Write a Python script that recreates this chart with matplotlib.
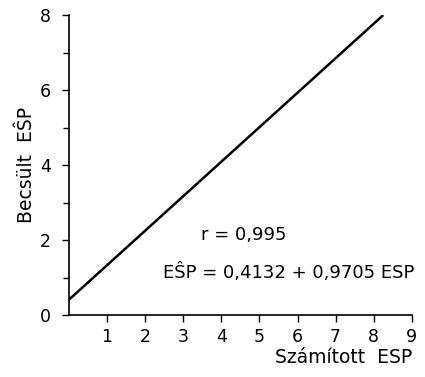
#!/usr/bin/env python3
"""
Becsült vs. számított ESP regression line.
"""

import matplotlib.pyplot as plt
from matplotlib.ticker import MultipleLocator

plt.rcParams['font.family'] = 'DejaVu Sans'
plt.rcParams['font.size'] = 12

# Data
line_x = [0.0, 8.25]
line_y = [0.41, 8.0]
x_ticks = [1, 2, 3, 4, 5, 6, 7, 8, 9]
y_ticks = [0, 2, 4, 6, 8]
r_text = 'r = 0,995'
eq_text = 'EŜP = 0,4132 + 0,9705 ESP'

fig = plt.figure(figsize=(4.25, 3.77), dpi=100)
ax = fig.add_axes([0.162, 0.164, 0.807, 0.796])

ax.plot(line_x, line_y, color='black', linewidth=1.8, solid_capstyle='butt')

ax.set_xlim(0, 9)
ax.set_ylim(0, 8)
ax.set_xticks(x_ticks)
ax.set_yticks(y_ticks)
ax.yaxis.set_minor_locator(MultipleLocator(1))
ax.tick_params(axis='both', which='both', direction='out', width=1.0,
               labelsize=12.5, colors='black')
ax.tick_params(axis='both', which='major', length=5)
ax.tick_params(axis='y', which='minor', length=4)
ax.tick_params(axis='x', which='major', pad=4)
ax.tick_params(axis='y', which='major', pad=8)

for side in ['top', 'right']:
    ax.spines[side].set_visible(False)
for side in ['left', 'bottom']:
    ax.spines[side].set_linewidth(1.2)

ax.set_ylabel('Becsült  EŜP', fontsize=13.5)
ax.yaxis.set_label_coords(-0.095, 0.5)
ax.set_xlabel('Számított  ESP', fontsize=13.5, ha='right')
ax.xaxis.set_label_coords(1.0, -0.108)

ax.text(4.6, 2.13, r_text, ha='center', va='center', fontsize=13)
ax.text(9.06, 1.15, eq_text, ha='right', va='center', fontsize=13)

plt.savefig('out.png', dpi=100)
plt.close()
